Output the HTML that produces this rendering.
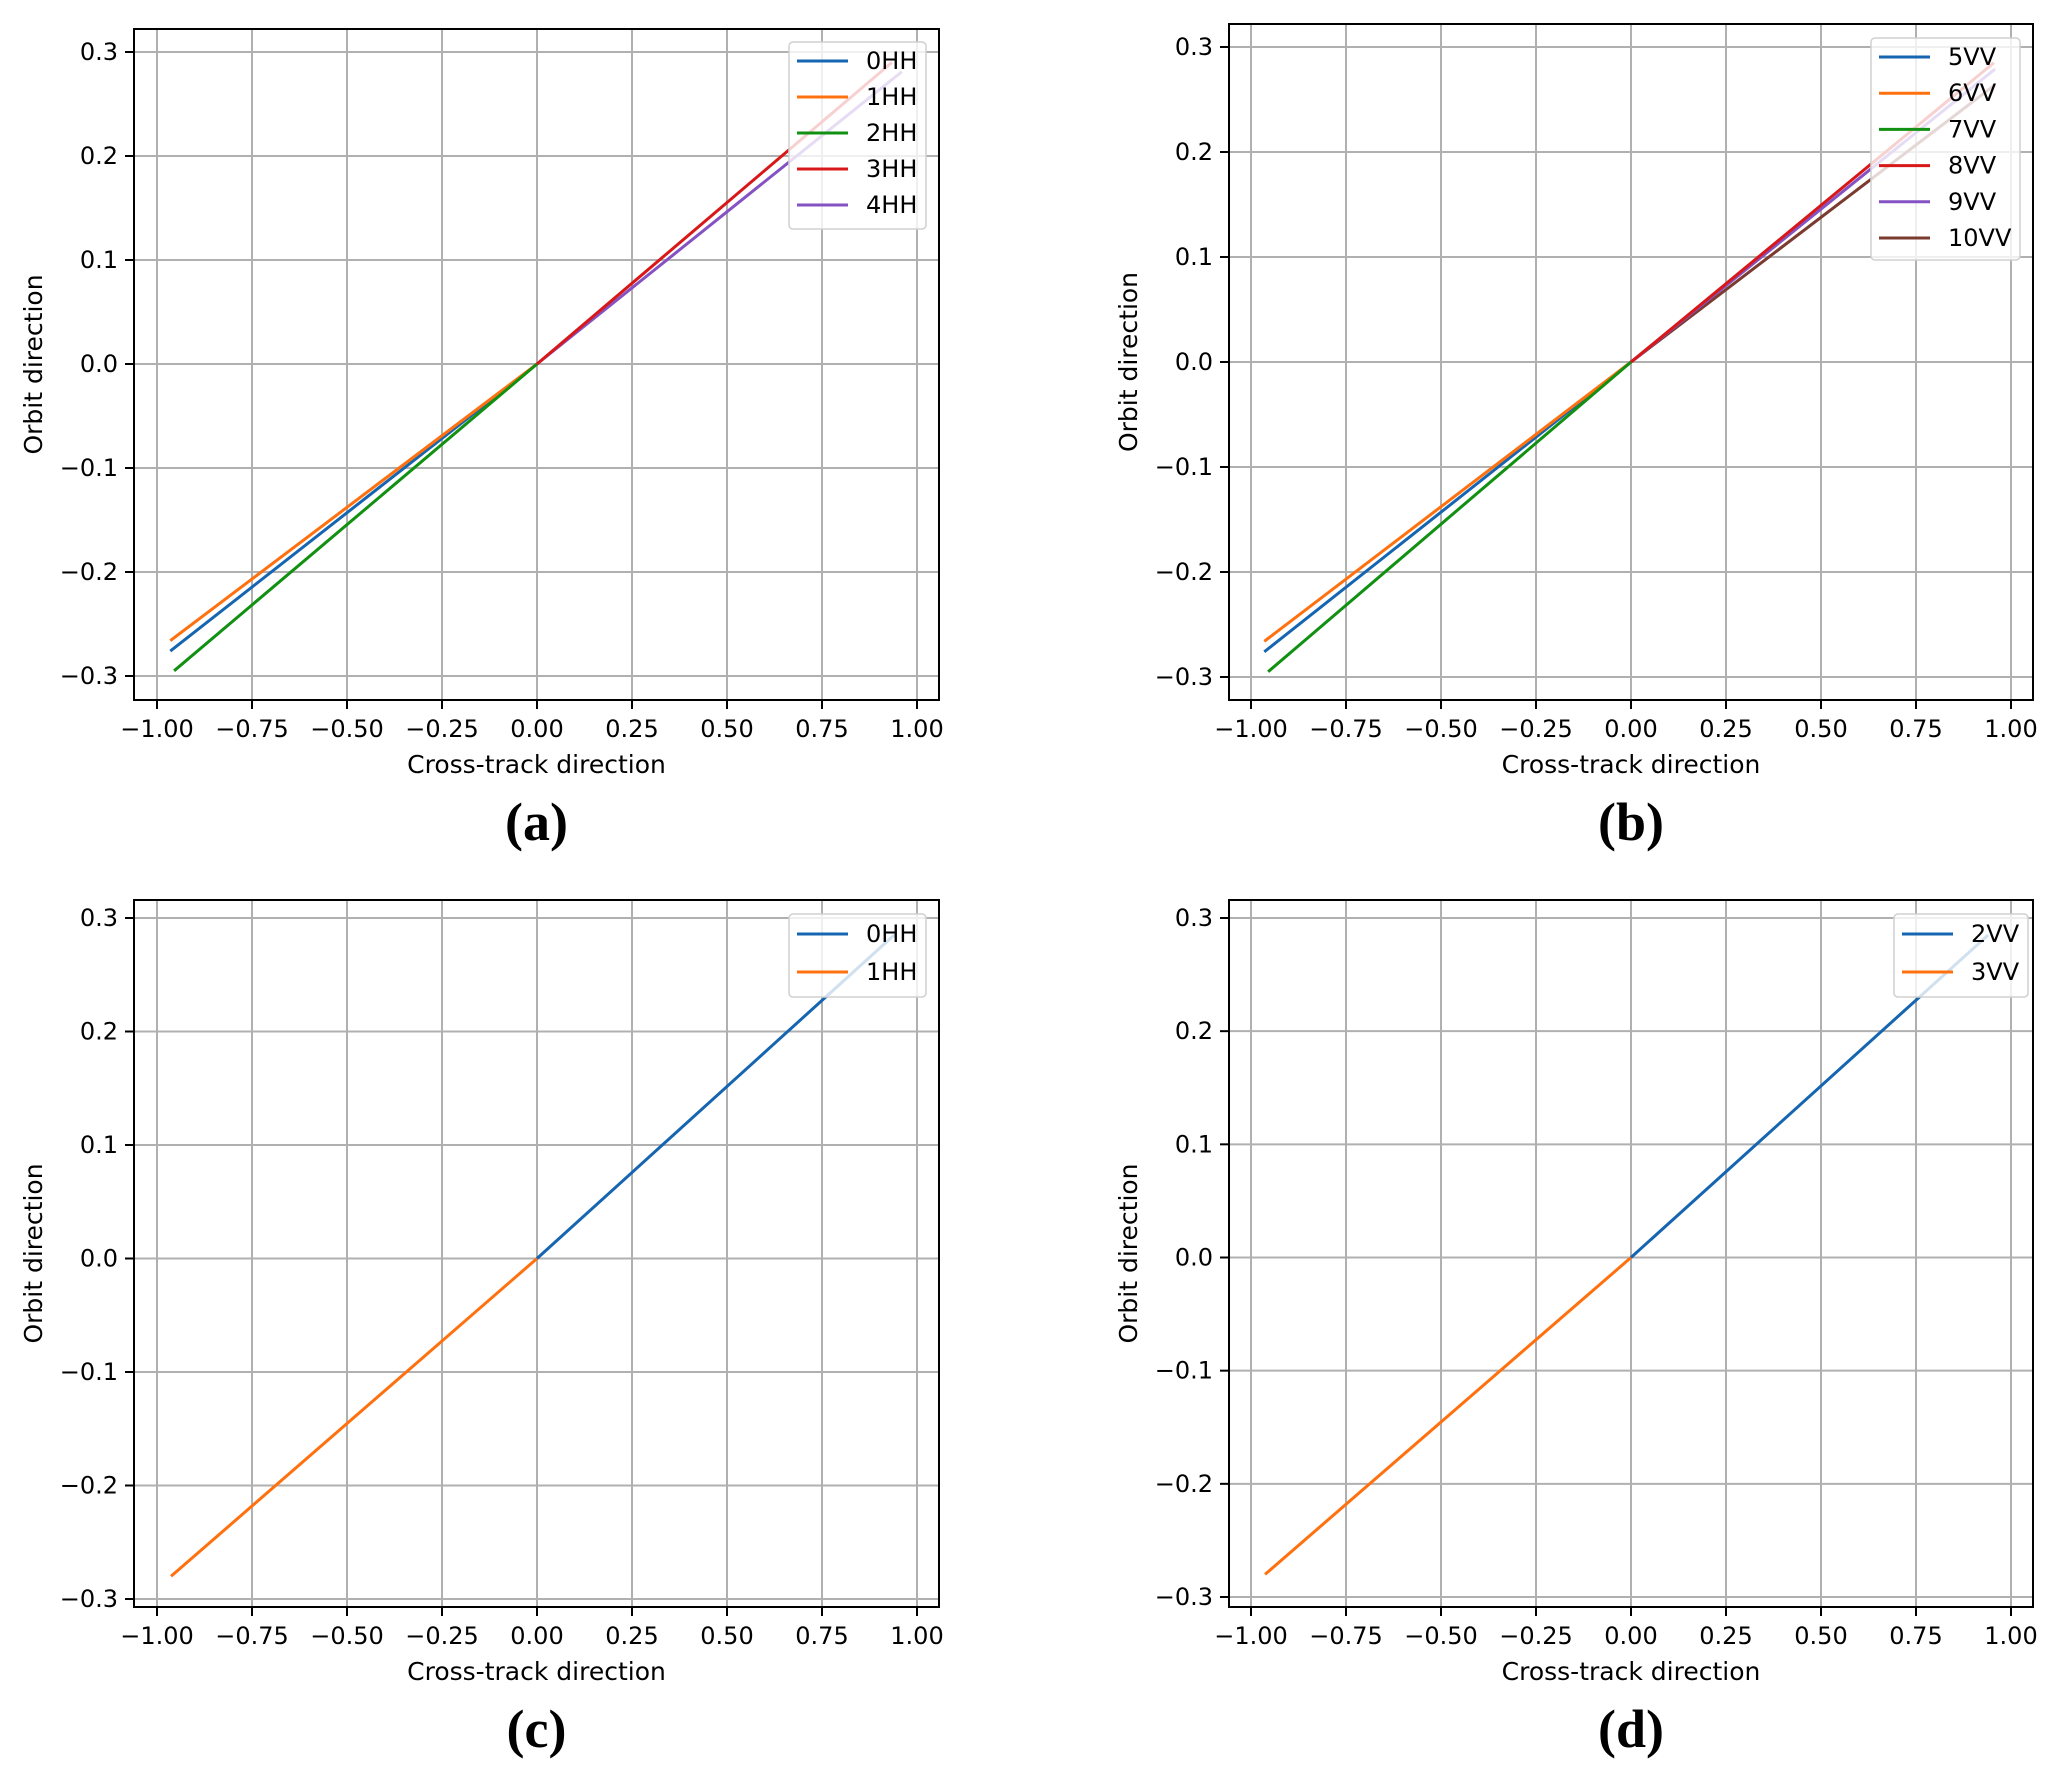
<!DOCTYPE html>
<html><head><meta charset="utf-8">
<style>
html,body{margin:0;padding:0;background:#fff;}
svg{display:block;}
</style></head>
<body>
<svg id="s" xmlns="http://www.w3.org/2000/svg" width="2067" height="1789" viewBox="0 0 2067 1789"></svg>
<script>
var NS="http://www.w3.org/2000/svg",S=document.getElementById('s');
var SANS='"DejaVu Sans","Liberation Sans",sans-serif';
function el(t,a,txt,p){var e=document.createElementNS(NS,t);for(var k in a)e.setAttribute(k,a[k]);if(t=='text'&&!a['font-family'])e.setAttribute('font-family',SANS);if(txt!=null)e.textContent=txt;(p||S).appendChild(e);return e;}
var C={blue:'#1565b0',orange:'#ff700f',green:'#119011',red:'#d81818',purple:'#8452c2',brown:'#7b3b2f'};
var panels=[
 {L:134,R:939,T:29,B:700,xm:157,xp:917,y3:52,ym3:676,tag:'(a)',
  leg:{x:789,y:42,w:137,h:187,y0:61,dy:36},
  names:['0HH','1HH','2HH','3HH','4HH'],cols:['blue','orange','green','red','purple'],
  lines:[['blue',-0.965,-0.276],['orange',-0.965,-0.266],['green',-0.955,-0.295],['purple',0.96,0.281],['red',0.934,0.29]]},
 {L:1229,R:2033,T:24,B:700,xm:1251,xp:2011,y3:47,ym3:677,tag:'(b)',
  leg:{x:1871,y:38,w:149,h:222,y0:57,dy:36.2},
  names:['5VV','6VV','7VV','8VV','9VV','10VV'],cols:['blue','orange','green','red','purple','brown'],
  lines:[['blue',-0.965,-0.276],['orange',-0.965,-0.266],['green',-0.955,-0.295],['brown',0.958,0.264],['purple',0.958,0.279],['red',0.955,0.285]]},
 {L:134,R:939,T:900,B:1607,xm:157,xp:917,y3:918,ym3:1599,tag:'(c)',
  leg:{x:789,y:914,w:137,h:83,y0:934,dy:38},
  names:['0HH','1HH'],cols:['blue','orange'],
  lines:[['orange',-0.963,-0.28],['blue',0.94,0.285]]},
 {L:1229,R:2033,T:900,B:1607,xm:1251,xp:2011,y3:918,ym3:1597,tag:'(d)',
  leg:{x:1894,y:914,w:134,h:83,y0:934,dy:38},
  names:['2VV','3VV'],cols:['blue','orange'],
  lines:[['orange',-0.963,-0.28],['blue',0.94,0.285]]}
];
panels.forEach(function(p){
 var X=function(v){return p.xm+(v+1)/2*(p.xp-p.xm);};
 var Y=function(v){return p.ym3-(v+0.3)/0.6*(p.ym3-p.y3);};
 var g=el('g',{});
 for(var i=0;i<=8;i++){var v=-1+i*0.25,x=X(v);
  el('line',{x1:x,x2:x,y1:p.T,y2:p.B,stroke:'#b0b0b0','stroke-width':2},null,g);
  el('line',{x1:x,x2:x,y1:p.B,y2:p.B+9,stroke:'#000','stroke-width':2},null,g);
  el('text',{x:x,y:p.B+37,'font-size':24,'text-anchor':'middle'},(v<0?'\u2212':'')+Math.abs(v).toFixed(2),g);}
 for(var j=0;j<=6;j++){var v=-0.3+j*0.1,y=Y(v);
  el('line',{x1:p.L,x2:p.R,y1:y,y2:y,stroke:'#b0b0b0','stroke-width':2},null,g);
  el('line',{x1:p.L-9,x2:p.L,y1:y,y2:y,stroke:'#000','stroke-width':2},null,g);
  el('text',{x:p.L-16,y:y+8,'font-size':24,'text-anchor':'end'},(v<-0.001?'\u2212':'')+Math.abs(v).toFixed(1),g);}
 p.lines.forEach(function(l){el('line',{x1:X(0),y1:Y(0),x2:X(l[1]),y2:Y(l[2]),stroke:C[l[0]],'stroke-width':3},null,g);});
 el('rect',{x:p.L,y:p.T,width:p.R-p.L,height:p.B-p.T,fill:'none',stroke:'#000','stroke-width':2},null,g);
 var lg=p.leg;
 el('rect',{x:lg.x,y:lg.y,width:lg.w,height:lg.h,rx:4,fill:'#fff','fill-opacity':0.8,stroke:'#d0d0d0','stroke-width':1.5},null,g);
 p.names.forEach(function(n,k){var y=lg.y0+k*lg.dy;
  el('line',{x1:lg.x+8,x2:lg.x+59,y1:y,y2:y,stroke:C[p.cols[k]],'stroke-width':3},null,g);
  el('text',{x:lg.x+77,y:y+8,'font-size':24},n,g);});
 var cx=(p.L+p.R)/2,cy=(p.T+p.B)/2;
 el('text',{x:cx,y:p.B+73,'font-size':25,'text-anchor':'middle'},'Cross-track direction',g);
 el('text',{x:p.L-100,y:cy,'font-size':25,'text-anchor':'middle',transform:'rotate(-90 '+(p.L-100)+' '+cy+')',dy:8},'Orbit direction',g);
 el('text',{x:cx,y:p.B+140,'font-size':54,'font-weight':'bold','text-anchor':'middle','font-family':'"Liberation Serif","Times New Roman",serif'},p.tag,g);
});
</script>
</body></html>
